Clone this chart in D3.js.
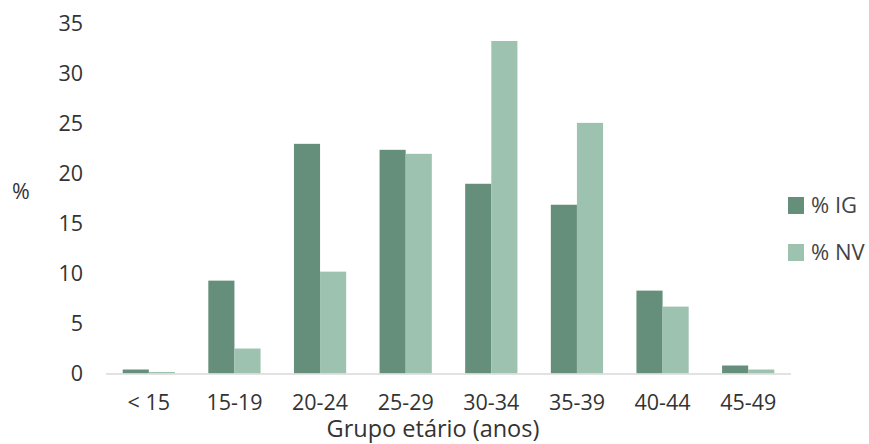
<!DOCTYPE html>
<html>
<head>
<meta charset="utf-8">
<script src="https://cdn.jsdelivr.net/npm/d3@7"></script>
<style>
  html, body { margin: 0; padding: 0; background: #fff; }
  svg { display: block; font-family: "Open Sans", sans-serif; }
</style>
</head>
<body>
<svg id="chart" width="869" height="444"></svg>
<script>
// Age groups and shares (%) per series
const categories = ["< 15", "15-19", "20-24", "25-29", "30-34", "35-39", "40-44", "45-49"];
const seriesNames = ["% IG", "% NV"];
const valuesIG = [0.4, 9.3, 23.0, 22.4, 19.0, 16.9, 8.3, 0.8];
const valuesNV = [0.15, 2.5, 10.2, 22.0, 33.3, 25.1, 6.7, 0.4];
const yTicks = [0, 5, 10, 15, 20, 25, 30, 35];
const colors = ["#658e7b", "#9dc2af"];

const svg = d3.select("#chart");
const plot = { left: 106, right: 791, top: 24, bottom: 373.5 };
const textColor = "#333";

const x = d3.scaleBand().domain(categories).range([plot.left, plot.right]).paddingInner(0.39).paddingOuter(0.195);
const xs = d3.scaleBand().domain(seriesNames).range([0, x.bandwidth()]);
const y = d3.scaleLinear().domain([0, 35]).range([plot.bottom, plot.top]);

const table = categories.map((c, i) => ({ cat: c, vals: [valuesIG[i], valuesNV[i]] }));

// Bars
const groups = svg.append("g").selectAll("g").data(table).join("g")
  .attr("transform", d => `translate(${x(d.cat)},0)`);
groups.selectAll("rect").data(d => d.vals.map((v, k) => ({ v, k })))
  .join("rect")
  .attr("x", d => xs(seriesNames[d.k]))
  .attr("width", xs.bandwidth())
  .attr("y", d => y(d.v))
  .attr("height", d => y(0) - y(d.v))
  .attr("fill", d => colors[d.k]);

// Baseline
svg.append("line")
  .attr("x1", plot.left).attr("x2", plot.right)
  .attr("y1", y(0) + 0.5).attr("y2", y(0) + 0.5)
  .attr("stroke", "#d9d9d9").attr("stroke-width", 1.5);

// Y axis labels
const yAxis = d3.axisLeft(y).tickValues(yTicks).tickSize(0).tickPadding(0);
const yg = svg.append("g").attr("transform", "translate(83,0)").call(yAxis);
yg.select(".domain").remove();
yg.selectAll("text").attr("font-size", 21.5).attr("fill", textColor).attr("font-family", "Open Sans, sans-serif");

// X axis labels
const xAxis = d3.axisBottom(x).tickSize(0).tickPadding(0);
const xg = svg.append("g").attr("transform", "translate(0,395)").call(xAxis);
xg.select(".domain").remove();
xg.selectAll("text").attr("font-size", 21.5).attr("fill", textColor).attr("font-family", "Open Sans, sans-serif");

// Axis titles
svg.append("text").attr("x", 21).attr("y", 199).attr("text-anchor", "middle")
  .attr("font-size", 21.5).attr("fill", textColor).text("%");
svg.append("text").attr("x", 433).attr("y", 437).attr("text-anchor", "middle")
  .attr("font-size", 23.5).attr("fill", textColor).text("Grupo etário (anos)");

// Legend
const legend = svg.append("g").selectAll("g").data(seriesNames).join("g")
  .attr("transform", (d, i) => `translate(788,${197 + i * 47})`);
legend.append("rect").attr("width", 16).attr("height", 17).attr("fill", (d, i) => colors[i]);
legend.append("text").attr("x", 23).attr("y", 16)
  .attr("font-size", 22).attr("fill", "#444").text(d => d);
</script>
</body>
</html>
